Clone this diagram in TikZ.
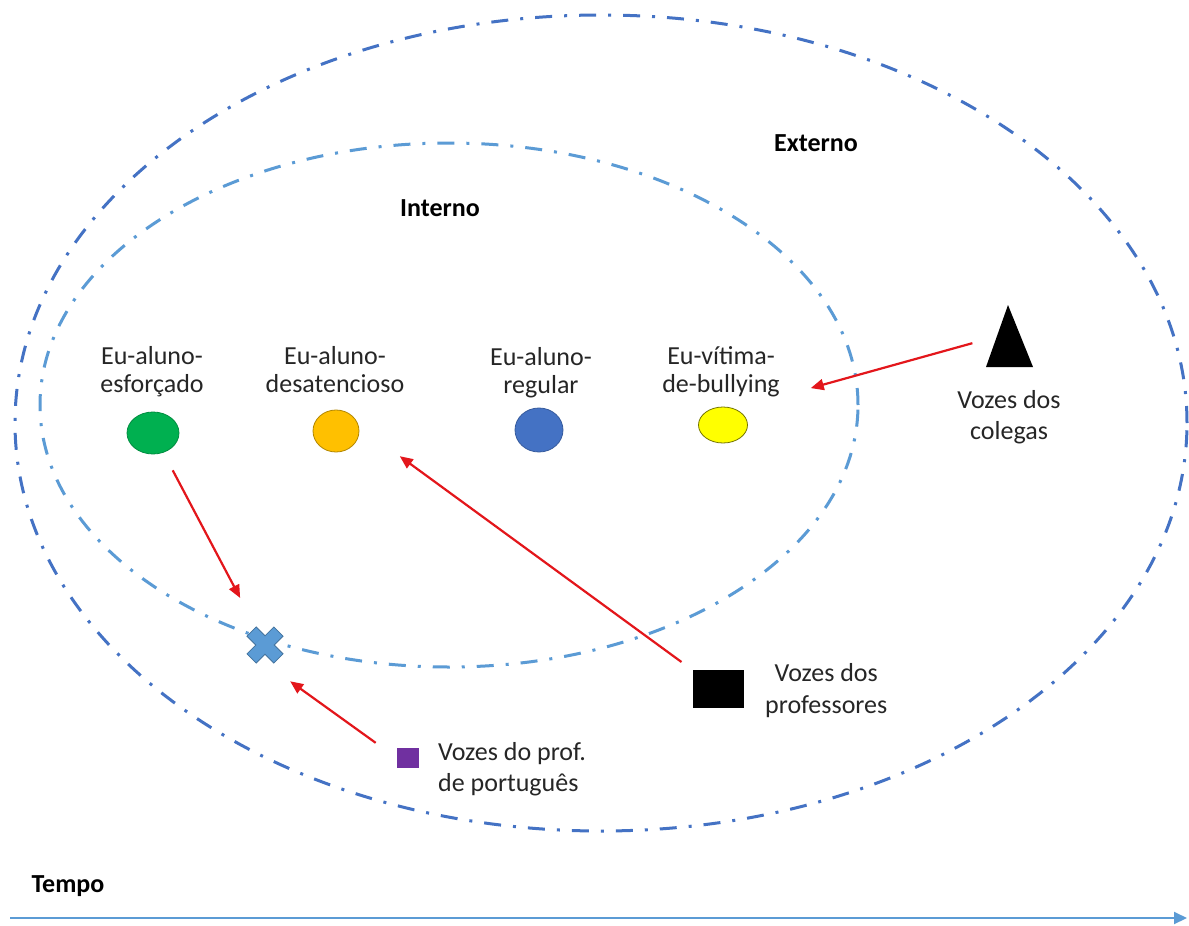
\documentclass[tikz,border=0pt]{standalone}
\usepackage{fontspec}
\setmainfont{Carlito}
\usetikzlibrary{arrows.meta,shapes.geometric}
\definecolor{outerblue}{HTML}{4472C4}
\definecolor{innerblue}{HTML}{5B9BD5}
\definecolor{crossedge}{HTML}{41719C}
\definecolor{selfgreen}{HTML}{00B050}
\definecolor{selforange}{HTML}{FFC000}
\definecolor{selfblue}{HTML}{4472C4}
\definecolor{selfyellow}{HTML}{FFFF00}
\definecolor{voicepurple}{HTML}{7030A0}
\definecolor{arrowred}{HTML}{E3161B}
\definecolor{txt}{HTML}{262626}
\begin{document}
\begin{tikzpicture}[x=1pt,y=-1pt,
  lbl/.style={font=\fontsize{26}{28}\selectfont, text=txt, align=center, inner sep=0pt},
  lblleft/.style={font=\fontsize{26}{31}\selectfont, text=txt, align=left, inner sep=0pt},
  title/.style={font=\fontsize{26}{30}\selectfont\bfseries, text=black, inner sep=0pt},
  self/.style={ellipse, inner sep=0pt, line width=0.8pt},
  ring/.style={line width=3pt, dash pattern=on 17pt off 12pt on 3pt off 12pt},
  voice/.style={draw=arrowred, line width=2.2pt, -{Triangle[length=13pt,width=11pt]}}]
\useasboundingbox (0,0) rectangle (1189,926);
\fill[white] (0,0) rectangle (1189,926);

% outer and inner spaces
\draw[ring, outerblue] (601,423) ellipse [x radius=586pt, y radius=408pt];
\draw[ring, innerblue] (449,405) ellipse [x radius=409pt, y radius=262pt];

\node[title, anchor=base] (ext) at (816,151) {Externo};
\node[title, anchor=base] (int) at (440,216) {Interno};

% the selves
\node[self, fill=selfgreen, draw=selfgreen!80!black, minimum width=52pt, minimum height=42pt] (esf) at (153,433) {};
\node[self, fill=selforange, draw=selforange!70!black, minimum width=46pt, minimum height=42pt] (des) at (336,431) {};
\node[self, fill=selfblue, draw=selfblue!80!black, minimum width=48pt, minimum height=44pt] (reg) at (539,430) {};
\node[self, fill=selfyellow, draw=selfyellow!45!black, minimum width=49pt, minimum height=36pt] (vit) at (723,425) {};

% labels (anchored on the baseline of their last line)
\node[lbl, anchor=base] (lesf) at (152,392) {Eu-aluno-\\esforçado};
\node[lbl, anchor=base] (ldes) at (335,392) {Eu-aluno-\\desatencioso};
\node[lbl, anchor=base] (lreg) at (541,393) {Eu-aluno-\\regular};
\node[lbl, anchor=base] (lvit) at (721,392) {Eu-vítima-\\de-bullying};

% the voices
\coordinate (tri) at (1009,333);
\fill[black] (1008,305) -- (1033,367) -- (986,367) -- cycle;
\node[lbl, anchor=base, font=\fontsize{26}{31}\selectfont] (lcol) at (1009,439) {Vozes dos\\colegas};

\node[fill=black, minimum width=51pt, minimum height=38pt, inner sep=0pt] (prof) at (718.5,689) {};
\node[lbl, anchor=base west, font=\fontsize{26}{32}\selectfont] (lprof) at (765,713) {Vozes dos\\professores};

\node[fill=voicepurple, minimum width=22pt, minimum height=20pt, inner sep=0pt] (pur) at (408,758) {};
\node[lblleft, anchor=base west] (lpur) at (438,791) {Vozes do prof.\\de português};

% the crossing point on the inner border
\node[circle, minimum size=36pt, inner sep=0pt] (cross) at (265,645) {};
\begin{scope}[shift={(cross.center)}, rotate=45]
  \filldraw[fill=innerblue, draw=crossedge, line width=0.8pt]
    (-6.5,-19) -- (6.5,-19) -- (6.5,-6.5) -- (19,-6.5) -- (19,6.5) -- (6.5,6.5)
    -- (6.5,19) -- (-6.5,19) -- (-6.5,6.5) -- (-19,6.5) -- (-19,-6.5) -- (-6.5,-6.5) -- cycle;
\end{scope}

% voices acting on the selves
\draw[voice, shorten <=38pt, shorten >=32pt] (tri) -- (lvit.south east);
\draw[voice, shorten <=14pt, shorten >=79pt] (prof) -- (des.north);
\draw[voice, shorten <=20pt, shorten >=35pt] (esf) -- (cross);
\draw[voice, shorten <=26pt, shorten >=31pt] (pur.west) -- (cross.south);

% time axis
\node[title, anchor=base] (tempo) at (68,892) {Tempo};
\coordinate (t0) at (10,918);
\coordinate (t1) at (1187,918);
\draw[innerblue, line width=2pt, -{Triangle[length=13pt,width=12pt]}] (t0) -- (t1);
\end{tikzpicture}
\end{document}
